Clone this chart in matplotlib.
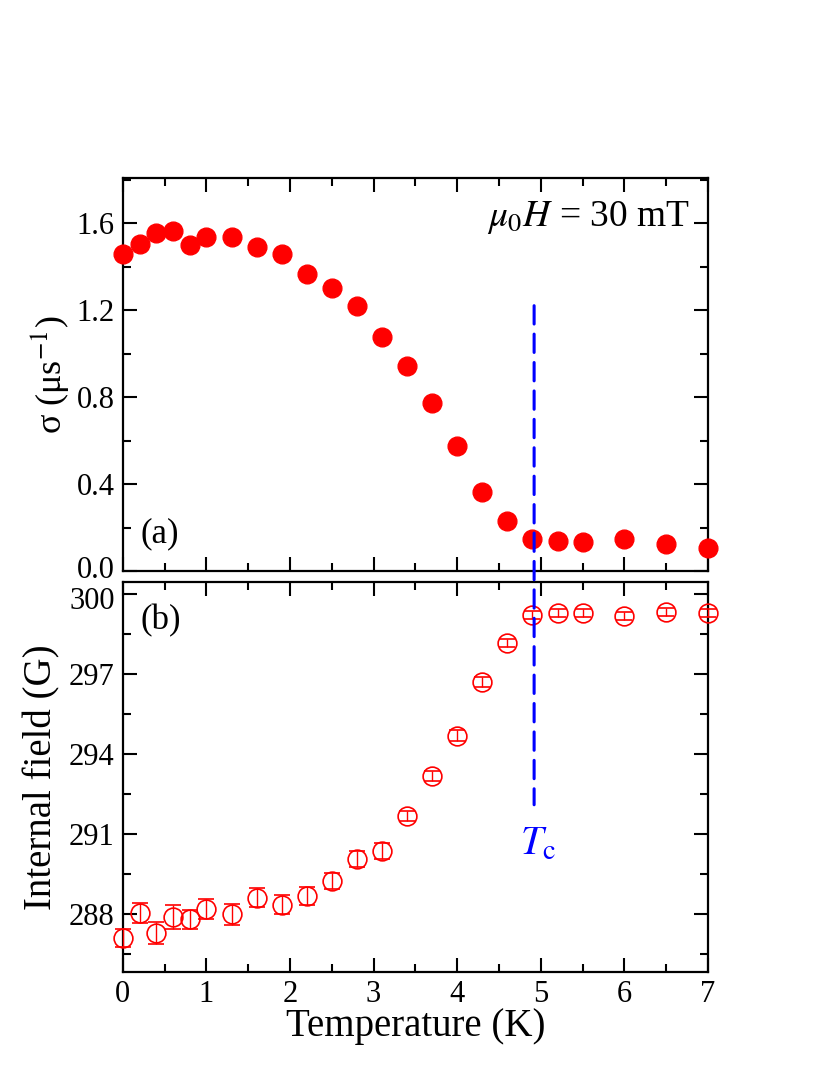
import matplotlib
matplotlib.use("Agg")
import matplotlib.pyplot as plt
from matplotlib.patches import ConnectionPatch
from matplotlib.ticker import MultipleLocator, FormatStrFormatter
from matplotlib.transforms import ScaledTranslation

plt.rcParams['font.family'] = ['Liberation Serif', 'DejaVu Serif']
plt.rcParams['mathtext.fontset'] = 'stix'

# ---- data ----
temperature = [0.0, 0.2, 0.4, 0.6, 0.8, 1.0, 1.3, 1.6, 1.9, 2.2, 2.5, 2.8,
               3.1, 3.4, 3.7, 4.0, 4.3, 4.6, 4.9, 5.2, 5.5, 6.0, 6.5, 7.0]
sigma = [1.457, 1.503, 1.554, 1.565, 1.497, 1.534, 1.538, 1.488, 1.457, 1.366,
         1.303, 1.218, 1.074, 0.942, 0.772, 0.577, 0.362, 0.228, 0.146, 0.138,
         0.135, 0.149, 0.123, 0.108]
field = [287.11, 288.03, 287.29, 287.90, 287.81, 288.19, 287.99, 288.62, 288.36,
         288.68, 289.24, 290.08, 290.38, 291.68, 293.18, 294.69, 296.71, 298.17,
         299.22, 299.28, 299.27, 299.19, 299.31, 299.27]
field_err = [0.35, 0.37, 0.41, 0.44, 0.36, 0.38, 0.39, 0.37, 0.35, 0.33, 0.30, 0.30,
             0.30, 0.20, 0.20, 0.20, 0.18, 0.15, 0.15, 0.15, 0.15, 0.15, 0.15, 0.15]
Tc = 4.92
tc_top_sigma = 1.22
tc_bottom_field = 292.1

fig = plt.figure(figsize=(8.3, 10.75), dpi=100)
ax1 = fig.add_axes([0.148, 0.4688, 0.705, 0.3656])
ax2 = fig.add_axes([0.148, 0.0958, 0.705, 0.3628])

red = '#FF0000'
blue = '#0000FF'

ax1.plot(temperature, sigma, 'o', color=red, ms=13.5, mec=red, clip_on=False, zorder=3)
ax2.errorbar(temperature, field, yerr=field_err, fmt='o', ms=13.5, mfc='none', mec=red,
             mew=1.2, ecolor=red, elinewidth=1.0, capsize=5.5, capthick=1.0,
             clip_on=False, zorder=3)

for ax in (ax1, ax2):
    ax.set_xlim(0, 7)
    ax.xaxis.set_major_locator(MultipleLocator(1))
    ax.xaxis.set_minor_locator(MultipleLocator(0.5))
    ax.tick_params(which='both', direction='in', top=True, right=True, labelsize=22)
    ax.tick_params(which='major', length=10, width=1.5, pad=6)
    ax.tick_params(which='minor', length=6, width=1.5)
    for s in ax.spines.values():
        s.set_linewidth(1.6)

ax1.set_ylim(0, 1.807)
ax1.yaxis.set_major_locator(MultipleLocator(0.4))
ax1.yaxis.set_minor_locator(MultipleLocator(0.2))
ax1.yaxis.set_major_formatter(FormatStrFormatter('%.1f'))
ax1.tick_params(labelbottom=False)

ax2.set_ylim(285.83, 300.45)
ax2.yaxis.set_major_locator(MultipleLocator(3))
ax2.yaxis.set_minor_locator(MultipleLocator(1.5))

ax1.set_ylabel(r'σ (μs$^{\mathrm{-1}}$)', fontsize=26, labelpad=4)
ax2.set_ylabel('Internal field (G)', fontsize=28, labelpad=6)
ax2.set_xlabel('Temperature (K)', fontsize=28, labelpad=-1)

ax1.text(0.97, 0.9, r'$\mu_{\mathit{0}}H$ = 30 mT', transform=ax1.transAxes,
         ha='right', va='center', fontsize=27)
ax1.text(0.03, 0.095, '(a)', transform=ax1.transAxes, ha='left', va='center', fontsize=25)
ax2.text(0.03, 0.9, '(b)', transform=ax2.transAxes, ha='left', va='center', fontsize=25)
ax2.text(Tc + 0.05, 290.6, r'$T_{\mathrm{c}}$', color=blue, ha='center', va='center',
         fontsize=29)

con = ConnectionPatch(xyA=(Tc, tc_top_sigma), coordsA=ax1.transData,
                      xyB=(Tc, tc_bottom_field), coordsB=ax2.transData,
                      color=blue, lw=2.2, linestyle=(0, (6, 3.3)), zorder=5)
fig.add_artist(con)

# nudge the adjacent 0.0 / 300 labels apart slightly
fig.canvas.draw()
for lbl in ax1.get_yticklabels():
    if lbl.get_text() == '0.0':
        lbl.set_transform(lbl.get_transform() + ScaledTranslation(0, 3 / 72, fig.dpi_scale_trans))
for lbl in ax2.get_yticklabels():
    if lbl.get_text() == '300':
        lbl.set_transform(lbl.get_transform() + ScaledTranslation(0, -3 / 72, fig.dpi_scale_trans))

fig.savefig('out.png', dpi=100)
